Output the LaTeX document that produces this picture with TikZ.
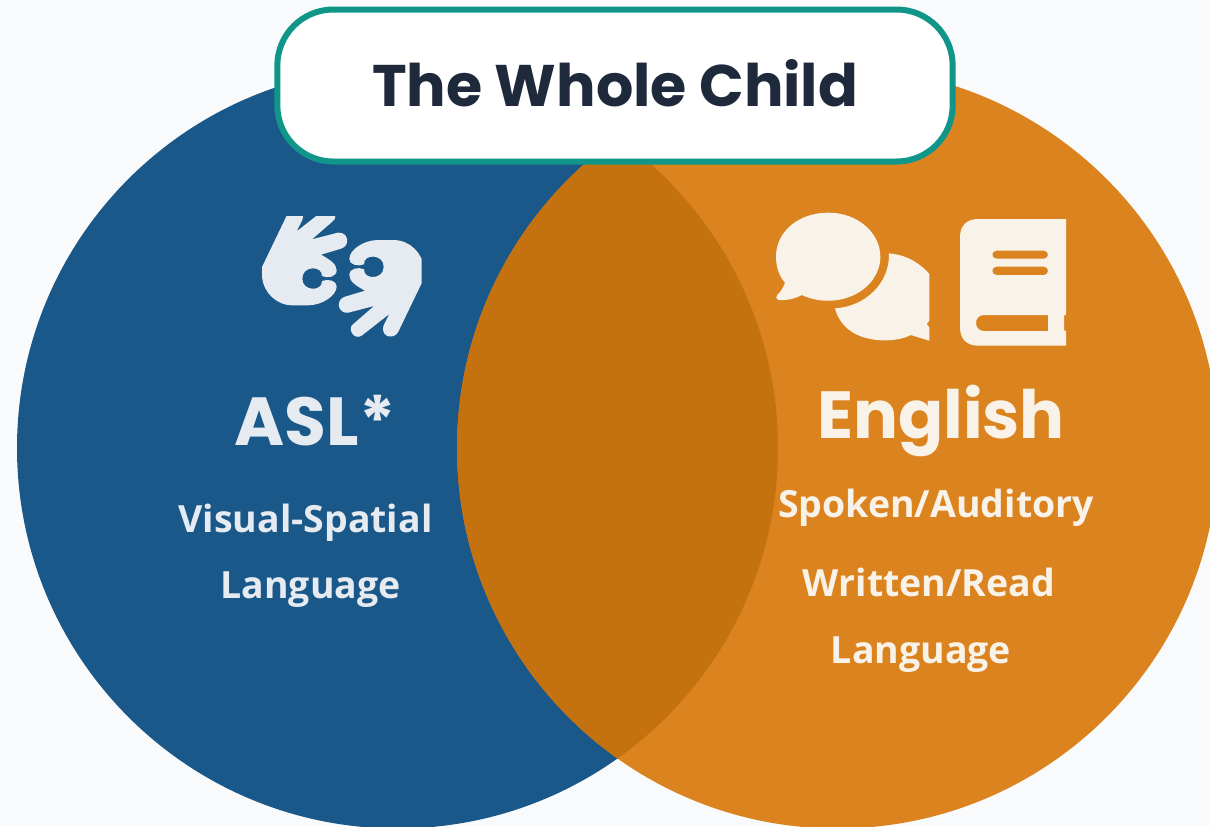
\documentclass[tikz,border=0pt]{standalone}
\usepackage{fontspec}
\setmainfont{Open Sans}
\newfontfamily\headfont{Poppins}
\definecolor{pagebg}{HTML}{F8FAFC}
\definecolor{aslblue}{HTML}{1A5889}
\definecolor{engorange}{HTML}{DB841F}
\definecolor{overlap}{HTML}{C47210}
\definecolor{tealline}{HTML}{0F9688}
\definecolor{titleink}{HTML}{1E293B}
\definecolor{aslink}{HTML}{E6EBF2}
\definecolor{engink}{HTML}{F9F2E8}
\tikzset{%
  titlebox/.style={rectangle,rounded corners=42pt,draw=tealline,line width=4.5pt,fill=white,
    minimum width=506.5pt,minimum height=114pt,text=titleink,font=\headfont\bfseries\fontsize{44}{50}\selectfont},
  headleft/.style={text=aslink,font=\headfont\bfseries\fontsize{51}{56}\selectfont},
  headright/.style={text=engink,font=\headfont\bfseries\fontsize{50}{56}\selectfont},
  subleft/.style={text=aslink,font=\bfseries\fontsize{28.1}{32}\selectfont},
  subright/.style={text=engink,font=\bfseries\fontsize{28.1}{32}\selectfont},
  iconbox/.style={shift={(#1)},x=.25pt,y=-.25pt}
}
\newcommand{\onehand}{%
  (430,120) .. controls (480,120) and (518,160) .. (522,205) -- (522,235) -- (445,395)
  .. controls (435,418) and (392,415) .. (400,378) -- (418,342) -- (335,407)
  .. controls (312,422) and (290,385) .. (310,372) -- (372,318) -- (295,338)
  .. controls (262,342) and (256,298) .. (285,290) -- (345,272)
  .. controls (320,258) and (298,245) .. (298,225) .. controls (298,205) and (325,200) .. (342,208)
  .. controls (340,240) and (402,240) .. (401,200) .. controls (402,162) and (340,160) .. (342,193)
  .. controls (325,200) and (298,195) .. (298,177) .. controls (298,150) and (340,120) .. (385,120) -- cycle}
\begin{document}
\begin{tikzpicture}[x=.75pt,y=-.75pt]
    \clip (0,0) rectangle (1210,826);
    \fill [pagebg] (0,0) rectangle (1210,826);

    \fill [aslblue] (397.5,448) circle [radius=380.5];
    \fill [engorange] (837.5,448) circle [radius=380.5];
    \begin{scope}
      \clip (397.5,448) circle [radius=380.5];
      \fill [overlap] (837.5,448) circle [radius=380.5];
    \end{scope}

    \node [titlebox] (title) at (615,85.5) {\raisebox{3.5pt}{The Whole Child}};

    % hands
    \begin{scope}[iconbox={250,200}]
      \clip (0,50) rectangle (515,450);
      \fill [aslink] \onehand;
      \begin{scope}[shift={(558,436)},x=-.25pt,y=.25pt]
        \fill [aslink] \onehand;
      \end{scope}
    \end{scope}

    % bubbles
    \begin{scope}[iconbox={765,200}]
      \fill [engink] (60,248) .. controls (42,228) and (33,200) .. (33,170)
        .. controls (33,95) and (100,38) .. (190,38)
        .. controls (280,38) and (346,100) .. (346,170)
        .. controls (346,270) and (220,335) .. (110,285)
        .. controls (90,297) and (60,302) .. (40,300)
        .. controls (32,298) and (32,290) .. (37,284) .. controls (48,275) and (55,262) .. (60,248) -- cycle;
      \fill [engink] (372,160) .. controls (430,165) and (470,195) .. (493,222) -- (493,362) -- (485,372)
        -- (493,382) -- (493,422) -- (437,405) .. controls (395,430) and (240,440) .. (210,325)
        .. controls (300,320) and (375,250) .. (372,160) -- cycle;
    % book
      \fill [engink,even odd rule] (640,57) -- (903,57) -- (903,345) -- (897,345) -- (897,392) -- (903,392)
        -- (903,437) -- (640,437) .. controls (605,437) and (585,417) .. (585,382) -- (585,112)
        .. controls (585,77) and (605,57) .. (640,57) -- cycle
        [rounded corners=3pt] (682,152) rectangle (849,176)
        (682,200) rectangle (849,225)
        [rounded corners=0pt] (849,345) -- (657,345) .. controls (625,345) and (625,393) .. (657,393) -- (849,393) -- cycle;
    \end{scope}

    \node [headleft] (asl) at (315,421) {ASL*};
    \node [subleft] (visual) at (305.5,523) {Visual-Spatial};
    \node [subleft] (langleft) at (310.5,590) {Language};

    \node [headright] (english) at (941,421) {English};
    \node [subright] (spoken) at (936,508) {Spoken/Auditory};
    \node [subright] (written) at (929,582) {Written/Read};
    \node [subright] (langright) at (921,655) {Language};
\end{tikzpicture}
\end{document}
